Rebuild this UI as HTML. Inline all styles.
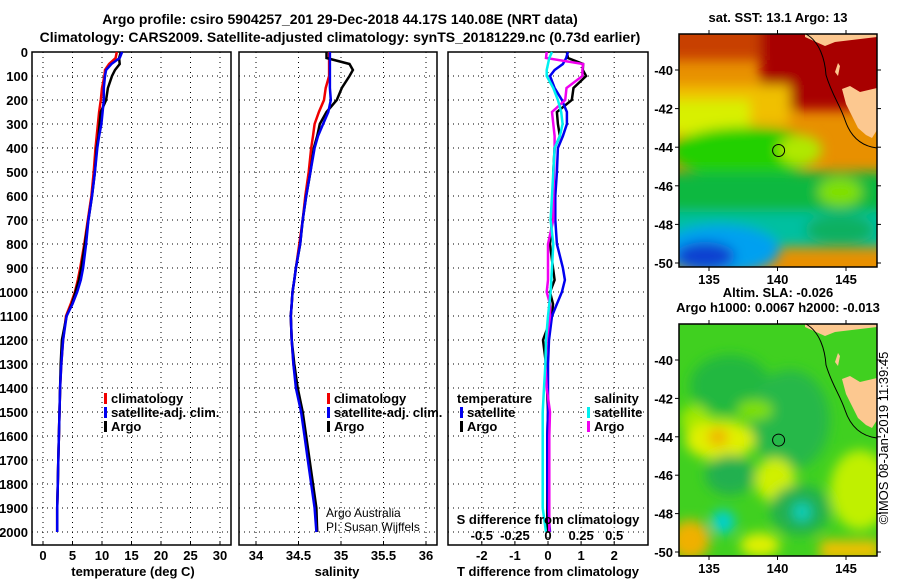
<!DOCTYPE html>
<html><head><meta charset="utf-8"><style>
body{margin:0;background:#fff;}
svg{display:block;font-family:"Liberation Sans",sans-serif;}
.t{font-weight:bold;font-size:13px;fill:#000;}
.ti{font-weight:bold;font-size:14px;fill:#000;}
.grid{stroke:#000;stroke-width:1;stroke-dasharray:1,4;}
</style></head><body>
<svg id="chart" width="900" height="580" viewBox="0 0 900 580">
<defs>
<filter id="bl" x="-20%" y="-20%" width="140%" height="140%"><feGaussianBlur stdDeviation="6"/></filter>
<clipPath id="c1"><rect x="679" y="34" width="198" height="233"/></clipPath>
<clipPath id="c2"><rect x="679" y="324" width="198" height="232"/></clipPath>
</defs>
<text class="ti" x="340" y="24" text-anchor="middle">Argo profile: csiro 5904257_201 29-Dec-2018 44.17S 140.08E (NRT data)</text>
<text class="ti" x="340" y="42" text-anchor="middle">Climatology: CARS2009. Satellite-adjusted climatology: synTS_20181229.nc (0.73d earlier)</text>
<g id="plots"></g>

<!-- SST map -->
<g clip-path="url(#c1)">
<rect x="679" y="34" width="198" height="233" fill="#e89000"/>
<g filter="url(#bl)">
<rect x="660" y="20" width="240" height="40" fill="#c84000"/>
<rect x="760" y="20" width="140" height="90" fill="#a80000"/>
<rect x="660" y="85" width="130" height="40" fill="#f0c000"/>
<rect x="660" y="100" width="90" height="35" fill="#d8f000"/>
<ellipse cx="745" cy="152" rx="75" ry="25" fill="#20d000"/>
<ellipse cx="800" cy="150" rx="22" ry="15" fill="#b0e800"/>
<rect x="660" y="172" width="240" height="42" fill="#10b840"/>
<ellipse cx="840" cy="192" rx="22" ry="14" fill="#80e000"/>
<rect x="660" y="212" width="240" height="35" fill="#00c0a0"/>
<ellipse cx="720" cy="250" rx="60" ry="25" fill="#00a0f0"/>
<ellipse cx="705" cy="256" rx="30" ry="14" fill="#1040d0"/>
<ellipse cx="840" cy="230" rx="35" ry="15" fill="#10b060"/>
</g>
</g>
<!-- SLA map -->
<g clip-path="url(#c2)">
<rect x="679" y="324" width="198" height="232" fill="#40d020"/>
<g filter="url(#bl)">
<ellipse cx="730" cy="385" rx="40" ry="30" fill="#20b840"/>
<ellipse cx="790" cy="420" rx="40" ry="50" fill="#28b848"/>
<ellipse cx="755" cy="410" rx="18" ry="10" fill="#80e000"/>
<ellipse cx="695" cy="420" rx="15" ry="15" fill="#a0e800"/>
<ellipse cx="720" cy="440" rx="35" ry="20" fill="#e0f000"/>
<ellipse cx="718" cy="437" rx="10" ry="9" fill="#f0b000"/>
<ellipse cx="775" cy="480" rx="20" ry="22" fill="#d0f000"/>
<ellipse cx="730" cy="475" rx="25" ry="20" fill="#20b050"/>
<ellipse cx="800" cy="510" rx="30" ry="25" fill="#20b050"/>
<ellipse cx="802" cy="512" rx="9" ry="9" fill="#00d0c0"/>
<ellipse cx="723" cy="522" rx="12" ry="12" fill="#00d0d0"/>
<ellipse cx="860" cy="490" rx="30" ry="40" fill="#c0f000"/>
<ellipse cx="690" cy="540" rx="20" ry="20" fill="#f0b000"/>
<rect x="820" y="540" width="60" height="20" fill="#f0c000"/>
<ellipse cx="760" cy="545" rx="20" ry="12" fill="#e0f000"/>
</g>
</g>
<g id="maps"></g>
<text x="888" y="438" transform="rotate(-90 888 438)" text-anchor="middle" style="font-size:13px">©IMOS 08-Jan-2019 11:39:45</text>
</svg>
<script>
const depths=[0,25,50,75,100,150,200,250,300,350,400,500,600,700,800,900,950,1000,1050,1100,1200,1300,1400,1500,1600,1700,1800,1900,2000];
const tempClim=[12.5,12.3,11.2,10.5,10.4,10.0,9.8,9.5,9.3,9.1,8.9,8.6,8.2,7.6,7.0,6.3,5.9,5.4,4.7,3.9,3.4,3.1,2.9,2.8,2.7,2.6,2.5,2.4,2.4];
const tempSat=[13.4,13.0,11.6,10.7,10.5,10.3,10.3,10.1,9.9,9.5,9.2,8.8,8.3,7.7,7.3,6.8,6.4,5.8,5.0,4.0,3.4,3.1,2.9,2.8,2.7,2.6,2.5,2.4,2.4];
const tempArgo=[13.2,12.9,13.0,12.2,11.7,11.0,10.7,9.8,9.6,9.4,9.1,8.8,8.3,7.7,7.1,6.5,6.1,5.5,4.9,4.0,3.2,3.0,2.9,2.8,2.7,2.6,2.5,2.4,2.4];
const salClim=[34.86,34.86,34.86,34.86,34.86,34.82,34.80,34.74,34.69,34.67,34.65,34.62,34.58,34.55,34.51,34.47,34.45,34.43,34.42,34.41,34.42,34.44,34.48,34.54,34.58,34.62,34.66,34.70,34.72];
const salSat=[34.87,34.87,34.87,34.87,34.87,34.87,34.88,34.85,34.79,34.73,34.69,34.64,34.59,34.55,34.52,34.47,34.45,34.43,34.42,34.41,34.42,34.44,34.47,34.53,34.57,34.61,34.65,34.69,34.71];
const salArgo=[34.83,34.83,35.10,35.14,35.10,35.01,34.95,34.83,34.75,34.72,34.68,34.64,34.59,34.55,34.52,34.47,34.45,34.43,34.42,34.41,34.42,34.45,34.49,34.55,34.59,34.63,34.67,34.71,34.72];
const dTsat=[0.6,0.55,0.45,0.2,0.06,0.2,0.42,0.57,0.57,0.45,0.3,0.27,0.22,0.22,0.27,0.45,0.51,0.42,0.27,0.12,0.03,0.0,0.0,0.0,-0.02,-0.02,-0.02,0.0,0.06];
const dTargo=[0.57,0.6,1.06,1.05,1.15,0.77,0.72,0.27,0.3,0.36,0.2,0.16,0.16,0.12,0.06,0.15,0.2,0.06,0.15,0.12,-0.15,-0.06,-0.03,0.0,-0.02,-0.02,-0.02,-0.02,-0.02];
const dSsat=[0.03,0.01,0.0,-0.01,-0.01,0.04,0.075,0.1,0.11,0.09,0.05,0.04,0.03,0.02,0.04,0.03,0.025,0.02,0.01,0.0,-0.015,-0.02,-0.03,-0.04,-0.04,-0.04,-0.04,-0.04,-0.015];
const dSargo=[-0.01,-0.015,0.265,0.26,0.26,0.14,0.13,0.03,0.04,0.05,0.05,0.045,0.04,0.04,0.0,0.0,0.0,-0.01,0.015,0.015,-0.01,-0.02,-0.01,0.015,0.01,0.01,0.01,0.01,0.01];
const depthTicks=[0,100,200,300,400,500,600,700,800,900,1000,1100,1200,1300,1400,1500,1600,1700,1800,1900,2000];
const tempTicks=[0,5,10,15,20,25,30];
const salTicks=[34,34.5,35,35.5,36];
const tdTicks=[-2,-1,0,1,2];
const sdTicks=[-0.5,-0.25,0,0.25,0.5];
const latTicks=[-40,-42,-44,-46,-48,-50];
const lonTicks=[135,140,145];

const NS='http://www.w3.org/2000/svg';
const root=document.getElementById('plots');
function mk(tag,attrs,parent,txt){const e=document.createElementNS(NS,tag);for(const k in attrs)e.setAttribute(k,attrs[k]);if(txt!==undefined)e.textContent=txt;(parent||root).appendChild(e);return e;}
const yD=d=>52+d*0.24;
const xT=v=>43+v*5.9;
const xS=v=>256+(v-34)*85;
const xTD=v=>548+v*33.1;
const xSD=v=>548+v*132.4;
const PT=52,PB=545;
function frame(x0,x1,name,xticks,xf){
  const g=mk('g',{});
  
  
  depthTicks.forEach(d=>{if(d>0){mk('line',{x1:x0,x2:x1,y1:yD(d),y2:yD(d),class:'grid'},g);}});
  xticks.forEach(v=>{const x=xf(v);mk('line',{x1:x,x2:x,y1:PT,y2:PB,class:'grid'},g);mk('line',{x1:x,x2:x,y1:PB,y2:PB-4,stroke:'#000'},g);});
  mk('rect',{x:x0,y:PT,width:x1-x0,height:PB-PT,fill:'none',stroke:'#000','stroke-width':1.5},g);
  return g;
}
function line(xs,xf,color,name,g,w){
  const pts=depths.map((d,i)=>xf(xs[i]).toFixed(1)+','+yD(d).toFixed(1)).join(' ');
  const p=mk('polyline',{points:pts,fill:'none',stroke:color,'stroke-width':w||2.5},g);
  
  
}
const g1=frame(32,231,'temperature-panel',tempTicks,xT);
depthTicks.forEach(d=>{const t=mk('text',{x:28,y:yD(d)+5,class:'t','text-anchor':'end'},g1,String(d));});
tempTicks.forEach(v=>{const t=mk('text',{x:xT(v),y:560,class:'t','text-anchor':'middle'},g1,String(v));});
line(tempClim,xT,'#f00000','temp-climatology-line',g1);
line(tempArgo,xT,'#000','temp-argo-line',g1);
line(tempSat,xT,'#0000f0','temp-satellite-line',g1);
{const t=mk('text',{x:133,y:576,class:'t','text-anchor':'middle'},g1,'temperature (deg C)');}
const g2=frame(239,437,'salinity-panel',salTicks,xS);
salTicks.forEach(v=>{const t=mk('text',{x:xS(v),y:560,class:'t','text-anchor':'middle'},g2,String(v));});
line(salClim,xS,'#f00000','sal-climatology-line',g2);
line(salArgo,xS,'#000','sal-argo-line',g2);
line(salSat,xS,'#0000f0','sal-satellite-line',g2);
{const t=mk('text',{x:337,y:576,class:'t','text-anchor':'middle'},g2,'salinity');}
{const t=mk('text',{x:326,y:517,'font-size':12},g2,'Argo Australia');}
{const t=mk('text',{x:326,y:531,'font-size':12},g2,'PI: Susan Wijffels');}
const g3=frame(448,648,'difference-panel',tdTicks,xTD);
tdTicks.forEach(v=>{const t=mk('text',{x:xTD(v),y:560,class:'t','text-anchor':'middle'},g3,String(v));});
line(dTargo,xTD,'#000','tdiff-argo-line',g3);
line(dTsat,xTD,'#0000f0','tdiff-satellite-line',g3);
line(dSargo,xSD,'#f000f0','sdiff-argo-line',g3);
line(dSsat,xSD,'#00f0f0','sdiff-satellite-line',g3);
sdTicks.forEach(v=>{const t=mk('text',{x:xSD(v),y:540,class:'t','text-anchor':'middle'},g3,String(v));});
{const t=mk('text',{x:548,y:524,class:'t','text-anchor':'middle'},g3,'S difference from climatology');}
{const t=mk('text',{x:548,y:576,class:'t','text-anchor':'middle'},g3,'T difference from climatology');}
function leg(x,y,color,label,name,g){
  const lg=mk('g',{},g);
  
  
  if(color)mk('rect',{x:x,y:y-10,width:3,height:11,fill:color},lg);
  mk('text',{x:x+7,y:y,class:'t'},lg,label);
}
leg(104,403,'#f00000','climatology','legend-climatology',g1);
leg(104,417,'#0000f0','satellite-adj. clim.','legend-satellite-adj',g1);
leg(104,431,'#000','Argo','legend-argo',g1);
leg(327,403,'#f00000','climatology','legend-climatology-sal',g2);
leg(327,417,'#0000f0','satellite-adj. clim.','legend-satellite-adj-sal',g2);
leg(327,431,'#000','Argo','legend-argo-sal',g2);
leg(450,403,null,'temperature','legend-temperature-header',g3);
leg(460,417,'#0000f0','satellite','legend-t-satellite',g3);
leg(460,431,'#000','Argo','legend-t-argo',g3);
leg(587,403,null,'salinity','legend-salinity-header',g3);
leg(587,417,'#00f0f0','satellite','legend-s-satellite',g3);
leg(587,431,'#f000f0','Argo','legend-s-argo',g3);

const mg=document.getElementById('maps');
function mapDecor(top,bot,title1,title2,name){
  const g=mk('g',{},mg);
  
  
  const latY=l=>top+36+(-40-l)*(bot-top-36-4)/10;
  const lonX=l=>709+(l-135)*13.7;
  const o=latY(-40)-70;
  mk('path',{d:`M805 ${top} L877 ${top} L877 ${top+3} L835 ${top+8} L825 ${top+12} L805 ${top+3} Z`,fill:'#fcc890'},g);
  mk('path',{d:`M842 ${89+o} L850 ${86+o} L860 ${92+o} L877 ${88+o} L877 ${130+o} L872 ${138+o} L866 ${135+o} L858 ${128+o} L852 ${116+o} L846 ${104+o} Z`,fill:'#fcc890'},g);
  mk('path',{d:`M835 ${72+o} L838 ${63+o} L840 ${66+o} L838 ${76+o} Z`,fill:'#fcc890'},g);
  mk('path',{d:`M806 ${top} C820 ${top+8} 825 ${60+o} 826 ${75+o} C832 ${95+o} 840 ${105+o} 845 ${120+o} C850 ${135+o} 860 ${146+o} 877 ${148+o}`,fill:'none',stroke:'#000','stroke-width':1},g);
  mk('rect',{x:679,y:top,width:198,height:bot-top,fill:'none',stroke:'#000','stroke-width':1.5},g);
  latTicks.forEach(l=>{const y=latY(l);mk('line',{x1:679,x2:675,y1:y,y2:y,stroke:'#000'},g);mk('line',{x1:877,x2:881,y1:y,y2:y,stroke:'#000'},g);mk('text',{x:673,y:y+5,class:'t','text-anchor':'end'},g,String(l));});
  lonTicks.forEach(l=>{const x=lonX(l);mk('line',{x1:x,x2:x,y1:top,y2:top-4,stroke:'#000'},g);mk('line',{x1:x,x2:x,y1:bot,y2:bot+4,stroke:'#000'},g);mk('text',{x:x,y:bot+17,class:'t','text-anchor':'middle'},g,String(l));});
  const c=mk('circle',{cx:lonX(140.08),cy:latY(-44.17),r:6,fill:'none',stroke:'#000','stroke-width':1},g);
  
  
  mk('text',{x:778,y:top-12-(title2?15:0),class:'t','text-anchor':'middle'},g,title1);
  if(title2)mk('text',{x:778,y:top-12,class:'t','text-anchor':'middle'},g,title2);
}
mapDecor(34,267,'sat. SST: 13.1 Argo: 13',null,'sst-map');
mapDecor(324,556,'Altim. SLA: -0.026','Argo h1000: 0.0067 h2000: -0.013','sla-map');
</script>
</body></html>
